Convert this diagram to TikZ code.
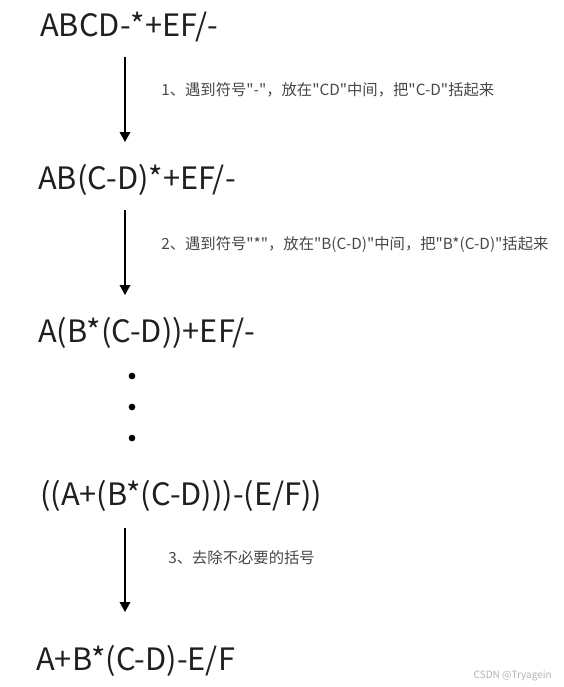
\documentclass[tikz,border=0pt]{standalone}
\usepackage{fontspec}
\setmainfont{Noto Sans CJK SC}[Ligatures=TeXOff]
\usetikzlibrary{arrows.meta}

\begin{document}
\begin{tikzpicture}[x=0.75pt,y=-0.75pt]
 % definition des styles
  \tikzstyle{expr}=[anchor=base west,inner sep=0pt,text=black!88,font=\fontsize{23.1}{28}\selectfont]
  \tikzstyle{etape}=[anchor=west,inner sep=0pt,text=black!72,font=\fontsize{11.5}{14}\selectfont]
  \tikzstyle{fleche}=[-{Triangle[width=8pt,length=7.5pt]},line width=1pt]
  \tikzstyle{point}=[circle,fill=black,inner sep=0pt,minimum size=5pt]
  \useasboundingbox (0,0) rectangle (564,687);
 % les expressions
  \node[expr] (E1) at (40,36) {ABCD-*+EF/-};
  \node[expr] (E2) at (38,189) {AB(C-D)*+EF/-};
  \node[expr] (E3) at (38,342) {A(B*(C-D))+EF/-};
  \node[expr] (E4) at (40,505) {((A+(B*(C-D)))-(E/F))};
  \node[expr] (E5) at (36,670) {A+B*(C-D)-E/F};
 % les points
  \node[point] (P1) at (132,376) {};
  \node[point] (P2) at (132,407) {};
  \node[point] (P3) at (132,438) {};
 % les fleches
  \coordinate (D1) at (125,57);  \coordinate (F1) at (125,142);
  \coordinate (D2) at (125,210); \coordinate (F2) at (125,295);
  \coordinate (D3) at (125,528); \coordinate (F3) at (125,612);
  \draw[fleche] (D1)--(F1);
  \draw[fleche] (D2)--(F2);
  \draw[fleche] (D3)--(F3);
 % les explications
  \node[etape] (T1) at (161,90) {1、遇到符号"-"，放在"CD"中间，把"C-D"括起来};
  \node[etape] (T2) at (161,245) {2、遇到符号"*"，放在"B(C-D)"中间，把"B*(C-D)"括起来};
  \node[etape] (T3) at (168,558) {3、去除不必要的括号};
 % la signature
  \node[anchor=east,inner sep=0pt,text=black!30,font=\fontsize{7.5}{9}\selectfont] (W) at (552,676) {CSDN @Tryagein};
\end{tikzpicture}
\end{document}
